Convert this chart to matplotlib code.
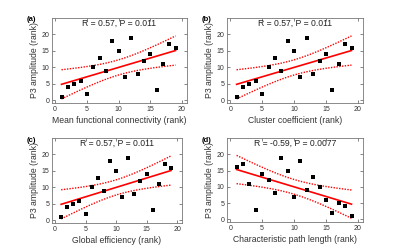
import numpy as np
import matplotlib
matplotlib.use('Agg')
import matplotlib.pyplot as plt

plt.rcParams['font.family'] = ['Liberation Sans', 'DejaVu Sans']

# rank data
rank_x = np.arange(1, 20)
p3_abc = [1, 4, 5, 6, 2, 10, 13, 9, 18, 15, 7, 19, 8, 12, 14, 3, 11, 17, 16]
p3_d = [16, 17, 11, 3, 14, 12, 8, 19, 15, 7, 18, 9, 13, 10, 6, 2, 5, 4, 1]

panel_tags = ['(a)', '(b)', '(c)', '(d)']
x_labels = ['Mean functional connectivity (rank)', 'Cluster coefficient (rank)',
            'Global efficiency (rank)', 'Characteristic path length (rank)']
stat_text = ['R = 0.57, P = 0.011', 'R = 0.57, P = 0.011',
             'R = 0.57, P = 0.011', 'R = -0.59, P = 0.0077']
y_values = [p3_abc, p3_abc, p3_abc, p3_d]

# axes boxes in pixels (left, top, right, bottom)
boxes_px = [(52, 18, 187, 103),
            (227, 18, 363, 103),
            (52, 138, 182, 223),
            (227, 138, 363, 222)]

T_CRIT = 2.11  # t(0.975, df=17)

fig = plt.figure(figsize=(4, 2.5), dpi=100)
for i in range(4):
    l, t, r, b = boxes_px[i]
    ax = fig.add_axes((l / 400, 1 - b / 250, (r - l) / 400, (b - t) / 250))
    x = rank_x.astype(float)
    y = np.array(y_values[i], dtype=float)
    slope, inter = np.polyfit(x, y, 1)
    xx = np.linspace(1, 19, 100)
    yy = slope * xx + inter
    n = len(x)
    resid = y - (slope * x + inter)
    s = np.sqrt(np.sum(resid ** 2) / (n - 2))
    se = s * np.sqrt(1 / n + (xx - x.mean()) ** 2 / np.sum((x - x.mean()) ** 2))
    ax.plot(xx, yy, color='red', lw=1.2)
    ax.plot(xx, yy + T_CRIT * se, color='red', lw=1.0, ls=(0, (1, 1)))
    ax.plot(xx, yy - T_CRIT * se, color='red', lw=1.0, ls=(0, (1, 1)))
    ax.scatter(x, y, marker='s', s=8, color='black', zorder=3, linewidths=0)

    ax.set_xlim(-0.5, 20.8)
    ax.set_ylim(-0.8, 25)
    ax.set_xticks([0, 5, 10, 15, 20])
    ax.set_yticks([0, 5, 10, 15, 20])
    ax.tick_params(direction='in', length=2, width=0.5, labelsize=5,
                   colors='#555555', labelcolor='#333333', pad=2,
                   top=True, right=True)
    for sp in ax.spines.values():
        sp.set_color('#777777')
        sp.set_linewidth(0.6)
    ax.set_xlabel(x_labels[i], fontsize=6.2, color='#333333', labelpad=2)
    ax.set_ylabel('P3 amplitude (rank)', fontsize=6.2, color='#333333', labelpad=2)
    ax.text(0.5, 0.99, stat_text[i], transform=ax.transAxes, ha='center', va='top',
            fontsize=6.2, color='#222222')
    ax.text(-25 / (r - l), 1 - 2 / (b - t), panel_tags[i],
            transform=ax.transAxes, ha='left', va='center',
            fontsize=5.5, fontweight='bold')

fig.savefig('out.png', dpi=100)
